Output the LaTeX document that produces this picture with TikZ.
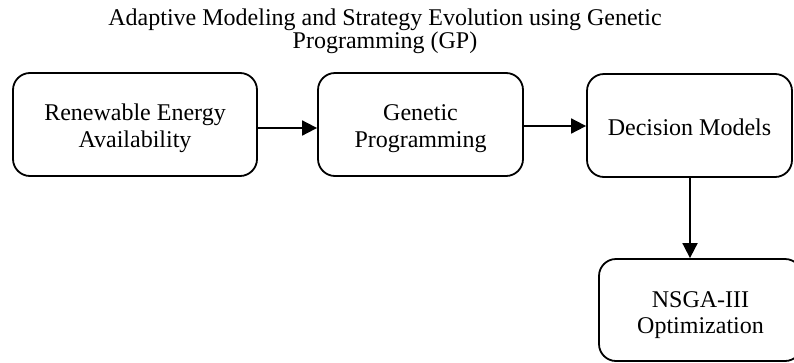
\documentclass[tikz,border=0pt]{standalone}
\usepackage{fontspec}
\setmainfont{Liberation Serif}
\usetikzlibrary{arrows.meta}
\begin{document}
\begin{tikzpicture}[x=1pt,y=-1pt,
  box/.style={draw=black,line width=1.8pt,rounded corners=17pt,rectangle,inner sep=0pt},
  lbl/.style={inner sep=0pt,anchor=base,font=\fontsize{24}{27}\selectfont},
  ttl/.style={inner sep=0pt,anchor=base,font=\fontsize{24}{23}\selectfont},
  arr/.style={line width=1.8pt,-{Triangle[length=15pt,width=15pt]}}]
\useasboundingbox (0,0) rectangle (794,362);
\clip (0,0) rectangle (794,362);
% title
\node[ttl] (title1) at (385,25) {Adaptive Modeling and Strategy Evolution using Genetic};
\node[ttl] (title2) at (385,48) {Programming (GP)};
% boxes
\node[box,minimum width=244pt,minimum height=103pt] (b1) at (135,124.5) {};
\node[box,minimum width=205pt,minimum height=103pt] (b2) at (420.5,124.5) {};
\node[box,minimum width=205pt,minimum height=103pt] (b3) at (689.5,125.5) {};
\node[box,minimum width=203pt,minimum height=102pt] (b4) at (700.5,310) {};
% labels
\node[lbl] (l1a) at (135,120) {Renewable Energy};
\node[lbl] (l1b) at (135,147) {Availability};
\node[lbl] (l2a) at (420.5,120) {Genetic};
\node[lbl] (l2b) at (420.5,147) {Programming};
\node[lbl] (l3) at (689.5,135) {Decision Models};
\node[lbl] (l4a) at (700.5,307) {NSGA-III};
\node[lbl] (l4b) at (700.5,333) {Optimization};
% connectors
\coordinate (a1s) at (b1.east |- 0,128);
\coordinate (a1e) at (b2.west |- 0,128);
\draw[arr] (a1s) -- (a1e);
\coordinate (a2s) at (b2.east |- 0,126);
\coordinate (a2e) at (b3.west |- 0,126);
\draw[arr] (a2s) -- (a2e);
\coordinate (a3s) at (690,0 |- b3.south);
\coordinate (a3e) at (690,0 |- b4.north);
\draw[arr] (a3s) -- (a3e);
\end{tikzpicture}
\end{document}
